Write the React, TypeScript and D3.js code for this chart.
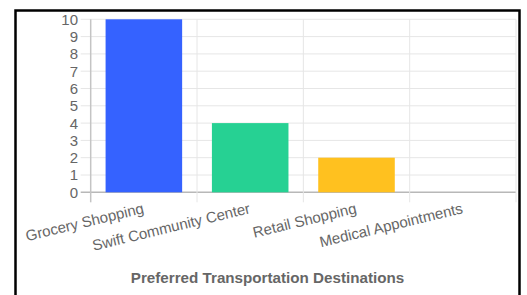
import React from 'react'
import * as d3 from 'd3'

const categories = ['Grocery Shopping', 'Swift Community Center', 'Retail Shopping', 'Medical Appointments']
const counts = [10, 4, 2, 0]
const barColors = ['#3562ff', '#26d193', '#ffc11f', '#9966ff']
const yTicks = [0, 1, 2, 3, 4, 5, 6, 7, 8, 9, 10]
const title = 'Preferred Transportation Destinations'

const W = 527
const H = 295
const left = 90.7
const right = 516
const top = 19.3
const bottom = 192.3

const App = () => {
  const x = d3.scaleBand<string>().domain(categories).range([left, right]).padding(0)
  const y = d3.scaleLinear().domain([0, 10]).range([bottom, top])
  const barW = x.bandwidth() * 0.72
  const font = 'Arial, "Liberation Sans", sans-serif'
  const gridLines = categories.map(c => x(c) as number).concat([right])

  return (
    <svg width={W} height={H} style={{ position: 'fixed', left: 0, top: 0, background: '#fff' }}>
      {/* frame */}
      <rect x={15.5} y={10.5} width={504} height={300} fill="none" stroke="#000" strokeWidth={2.5} />

      {/* horizontal grid */}
      {yTicks.map(t => (
        <line key={'h' + t} x1={left - 10} x2={right} y1={y(t)} y2={y(t)}
          stroke={t === 0 ? '#b8b8b8' : '#e6e6e6'} strokeWidth={t === 0 ? 1.5 : 1} />
      ))}
      {/* vertical grid */}
      {gridLines.map((gx, i) => (
        <line key={'v' + i} x1={gx} x2={gx} y1={top} y2={bottom + 10}
          stroke={i === 0 ? '#c4c4c4' : '#e6e6e6'} strokeWidth={i === 0 ? 1.5 : 1} />
      ))}

      {/* bars */}
      {categories.map((c, i) => {
        const cx = (x(c) as number) + x.bandwidth() / 2
        return (
          <rect key={c} x={cx - barW / 2} y={y(counts[i])} width={barW}
            height={y(0) - y(counts[i])} fill={barColors[i]} />
        )
      })}

      {/* y labels */}
      {yTicks.map(t => (
        <text key={'yl' + t} x={78} y={y(t)} dy="0.36em" textAnchor="end"
          fontFamily={font} fontSize={15} fill="#666">{t}</text>
      ))}

      {/* x labels */}
      {categories.map(c => {
        const cx = (x(c) as number) + x.bandwidth() / 2
        return (
          <text key={'xl' + c} transform={`translate(${cx - 2},${bottom + 9}) rotate(-13.5)`}
            textAnchor="end" dy="0.8em" fontFamily={font} fontSize={15} fill="#666">{c}</text>
        )
      })}

      <text x={267.5} y={283} textAnchor="middle" fontFamily={font} fontSize={15.2}
        fontWeight="bold" fill="#666">{title}</text>
    </svg>
  )
}

export default App
